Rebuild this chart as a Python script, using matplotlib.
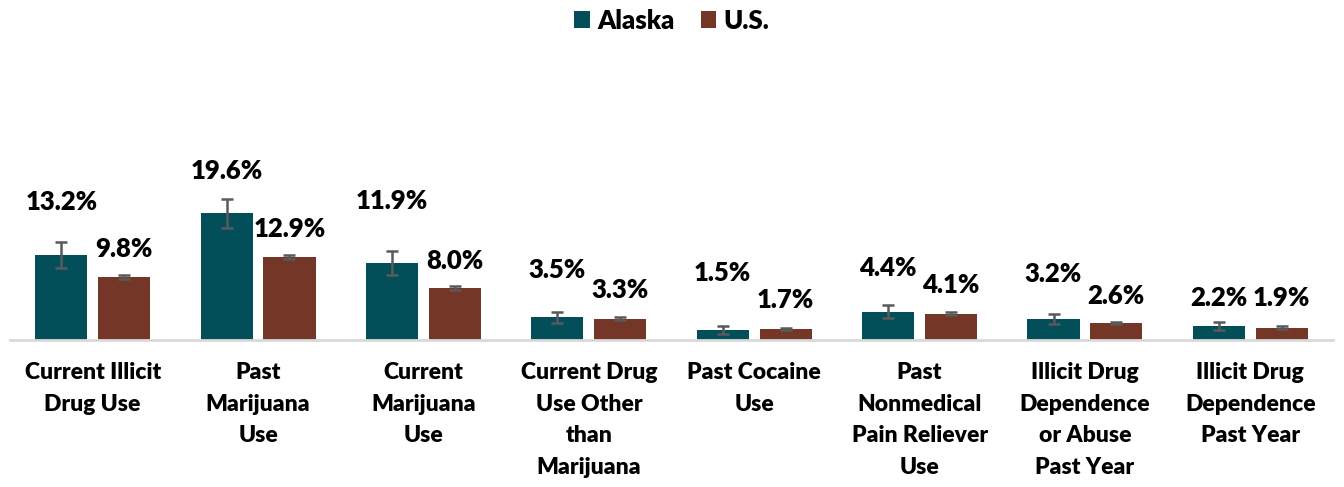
import matplotlib.pyplot as plt
import numpy as np

categories = ['Current Illicit\nDrug Use', 'Past\nMarijuana\nUse', 'Current\nMarijuana\nUse',
              'Current Drug\nUse Other\nthan\nMarijuana', 'Past Cocaine\nUse',
              'Past\nNonmedical\nPain Reliever\nUse', 'Illicit Drug\nDependence\nor Abuse\nPast Year',
              'Illicit Drug\nDependence\nPast Year']
alaska = [13.2, 19.6, 11.9, 3.5, 1.5, 4.4, 3.2, 2.2]
us = [9.8, 12.9, 8.0, 3.3, 1.7, 4.1, 2.6, 1.9]
alaska_err = [2.0, 2.2, 1.9, 0.9, 0.6, 0.95, 0.75, 0.6]
us_err = [0.3, 0.3, 0.3, 0.2, 0.2, 0.2, 0.2, 0.2]

# where the value labels sit (data units)
alaska_lab_y = [21.3, 26.2, 21.5, 10.8, 10.4, 11.1, 10.2, 6.5]
us_lab_y = [14.1, 17.2, 12.2, 7.7, 6.2, 8.5, 6.8, 6.5]

teal = '#024E59'
brown = '#743626'
plt.rcParams['font.family'] = ['Lato', 'DejaVu Sans']

fig = plt.figure(figsize=(13.44, 4.87), dpi=100)
ax = fig.add_axes([10/1344, 1 - 340/487, 1323/1344, 260/487])

x = np.arange(len(categories))
w = 0.315
off = 0.19
ekw = dict(ecolor='#595959', elinewidth=1.8, capsize=4.3, capthick=1.8)
ax.bar(x - off, alaska, w, color=teal, label='Alaska', yerr=alaska_err, error_kw=ekw, zorder=2)
ax.bar(x + off, us, w, color=brown, label='U.S.', yerr=us_err, error_kw=ekw, zorder=2)

for i in range(len(categories)):
    ax.text(x[i] - off, alaska_lab_y[i], f'{alaska[i]:.1f}%', ha='center', va='center',
            fontsize=18.5, fontweight='heavy')
    ax.text(x[i] + off, us_lab_y[i], f'{us[i]:.1f}%', ha='center', va='center',
            fontsize=18.5, fontweight='heavy')

ax.set_xlim(-0.5, len(categories) - 0.5)
ax.set_ylim(0, 260 / 6.46)
ax.set_yticks([])
ax.set_xticks(x)
ax.set_xticklabels(categories, fontsize=16.5, fontweight='heavy', linespacing=1.62, va='top')
ax.tick_params(axis='x', length=0, pad=16)
for s in ['top', 'right', 'left']:
    ax.spines[s].set_visible(False)
ax.spines['bottom'].set_color('#d9d9d9')
ax.spines['bottom'].set_linewidth(2)

fig.legend(loc='upper center', bbox_to_anchor=(0.5, 1.03), ncol=2, frameon=False,
           prop={'size': 18.5, 'weight': 'heavy'}, handlelength=0.6, handleheight=0.6,
           handletextpad=0.3, columnspacing=1.0)

plt.savefig('out.png', dpi=100)
